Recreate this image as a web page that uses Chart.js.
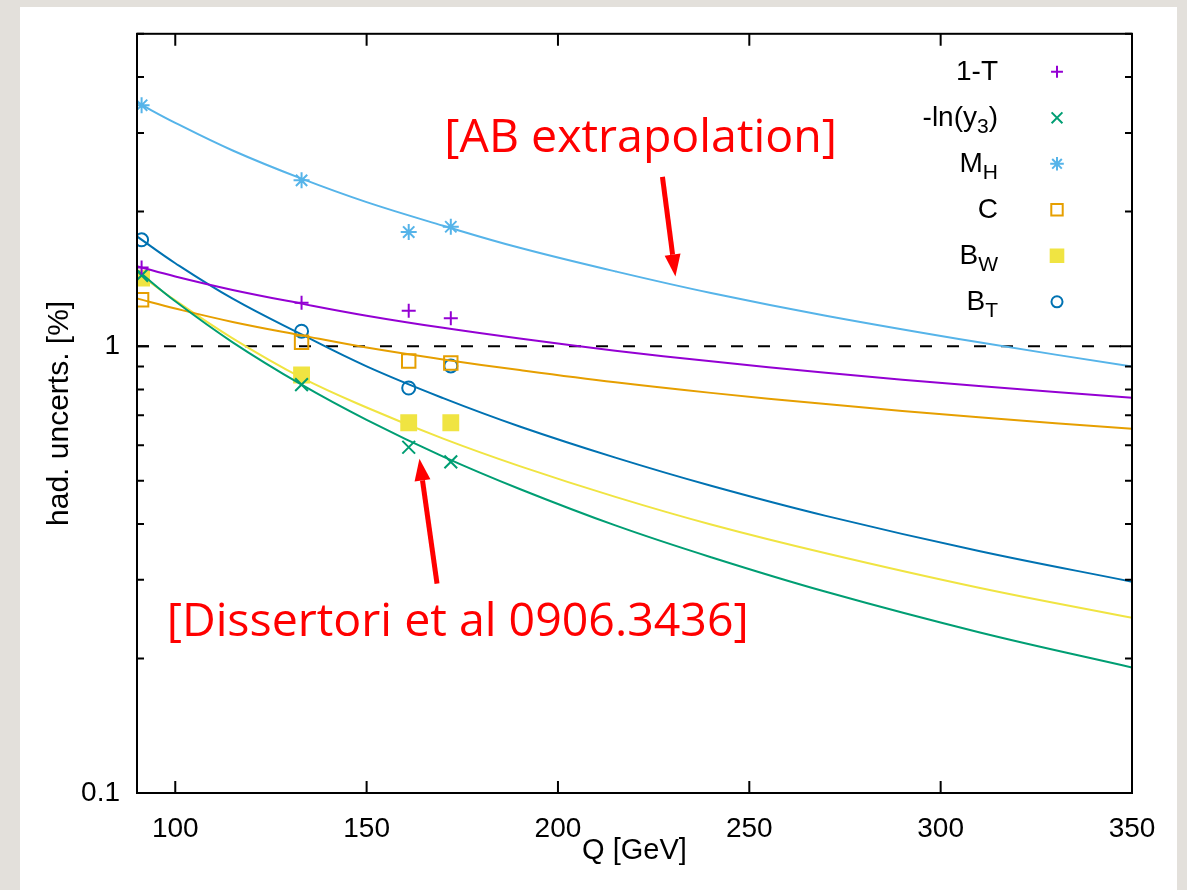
<!DOCTYPE html>
<html>
<head>
<meta charset="utf-8">
<script src="https://cdn.jsdelivr.net/npm/chart.js@4.4.1/dist/chart.umd.min.js"></script>
<style>
  html, body { margin: 0; padding: 0; }
  body { width: 1187px; height: 890px; overflow: hidden; background: #e3e0db; position: relative; }
  #sheet { position: absolute; left: 20px; top: 7px; width: 1157px; height: 883px; background: #fff; }
  #wrap { position: absolute; left: 0; top: 0; width: 1187px; height: 890px; }
</style>
</head>
<body>
<div id="sheet"></div>
<div id="wrap"><canvas id="chartHad"></canvas></div>
<script>
// measured points (LEP energies)
const energies = [91.2, 133, 161, 172];
const thrustPts = [1.50, 1.25, 1.20, 1.155];
const y3Pts = [1.44, 0.82, 0.594, 0.551];
const heavyMassPts = [3.46, 2.35, 1.80, 1.85];
const cParamPts = [1.27, 1.02, 0.926, 0.917];
const wideBroadPts = [1.42, 0.862, 0.674, 0.674];
const totalBroadPts = [1.73, 1.08, 0.806, 0.903];

// extrapolation curves
const curveQ = [90, 100, 115, 133, 150, 170, 190, 215, 240, 270, 310, 350];
const thrustCurve = [1.51, 1.432, 1.336, 1.245, 1.17, 1.099, 1.04, 0.977, 0.925, 0.872, 0.814, 0.766];
const y3Curve = [1.48, 1.26, 1.02, 0.82, 0.684, 0.566, 0.479, 0.397, 0.337, 0.282, 0.229, 0.191];
const heavyMassCurve = [3.51, 3.16, 2.74, 2.37, 2.10, 1.86, 1.66, 1.47, 1.315, 1.17, 1.02, 0.90];
const cParamCurve = [1.278, 1.214, 1.133, 1.057, 0.993, 0.934, 0.884, 0.83, 0.786, 0.742, 0.693, 0.653];
const wideBroadCurve = [1.46, 1.266, 1.041, 0.85, 0.729, 0.621, 0.539, 0.46, 0.399, 0.344, 0.288, 0.2466];
const totalBroadCurve = [1.76, 1.533, 1.277, 1.062, 0.901, 0.765, 0.661, 0.563, 0.487, 0.417, 0.348, 0.297];

// axes
const xTicks = [100, 150, 200, 250, 300, 350];
const yTicks = [0.1, 0.2, 0.3, 0.4, 0.5, 0.6, 0.7, 0.8, 0.9, 1, 2, 3, 4, 5];
const yLabeled = [0.1, 1];

// legend: main text + subscript + tail
const legendLabels = [
  ['1-T', '', ''],
  ['-ln(y', '3', ')'],
  ['M', 'H', ''],
  ['C', '', ''],
  ['B', 'W', ''],
  ['B', 'T', '']
];

// red notes (data coords)
const noteTexts = ['[AB extrapolation]', '[Dissertori et al 0906.3436]'];
const notePos = [[221.6, 2.907], [173.8, 0.240]];
const arrowFrom = [[227.3, 2.392], [168.4, 0.294]];
const arrowTo = [[230.7, 1.432], [163.8, 0.560]];

const FONT = "'Liberation Sans', Arial, sans-serif";

const series = [
  { name: '1-T', pts: thrustPts, curve: thrustCurve, color: '#9400d3', style: 'cross', r: 7, fill: false },
  { name: '-ln(y3)', pts: y3Pts, curve: y3Curve, color: '#009e73', style: 'crossRot', r: 9, fill: false },
  { name: 'M_H', pts: heavyMassPts, curve: heavyMassCurve, color: '#56b4e9', style: 'star', r: 8, fill: false },
  { name: 'C', pts: cParamPts, curve: cParamCurve, color: '#e69f00', style: 'rect', r: 9.5, fill: false },
  { name: 'B_W', pts: wideBroadPts, curve: wideBroadCurve, color: '#f0e442', style: 'rect', r: 10.5, fill: true },
  { name: 'B_T', pts: totalBroadPts, curve: totalBroadCurve, color: '#0072b2', style: 'circle', r: 6.5, fill: false }
];

const datasets = [];
series.forEach(s => {
  datasets.push({
    label: s.name + ' fit',
    data: curveQ.map((q, i) => ({ x: q, y: s.curve[i] })),
    showLine: true,
    borderColor: s.color,
    borderWidth: 2,
    pointRadius: 0,
    tension: 0.4
  });
  datasets.push({
    label: s.name,
    data: energies.map((q, i) => ({ x: q, y: s.pts[i] })),
    showLine: false,
    pointStyle: s.style,
    pointRadius: s.r,
    pointBorderWidth: 2,
    pointBorderColor: s.color,
    pointBackgroundColor: s.fill ? s.color : 'rgba(0,0,0,0)'
  });
});
// dashed reference line at 1%
datasets.push({
  label: 'ref',
  data: [{ x: 90, y: 1 }, { x: 350, y: 1 }],
  showLine: true,
  borderColor: '#000',
  borderWidth: 2,
  borderDash: [12, 15],
  pointRadius: 0
});

function drawArrow(ctx, x0, y0, x1, y1) {
  const ang = Math.atan2(y1 - y0, x1 - x0);
  const head = 22, half = 8;
  const bx = x1 - head * Math.cos(ang), by = y1 - head * Math.sin(ang);
  ctx.beginPath();
  ctx.moveTo(x0, y0);
  ctx.lineTo(bx, by);
  ctx.stroke();
  ctx.beginPath();
  ctx.moveTo(x1, y1);
  ctx.lineTo(bx + half * Math.sin(ang), by - half * Math.cos(ang));
  ctx.lineTo(bx - half * Math.sin(ang), by + half * Math.cos(ang));
  ctx.closePath();
  ctx.fill();
}

const framePlugin = {
  id: 'framePlugin',
  afterDatasetsDraw(chart) {
    const { ctx, chartArea: a, scales: { x, y } } = chart;
    ctx.save();
    // frame + inward ticks (gnuplot style)
    ctx.strokeStyle = '#000';
    ctx.lineWidth = 2;
    ctx.strokeRect(a.left, a.top, a.right - a.left, a.bottom - a.top);
    ctx.beginPath();
    xTicks.forEach(v => {
      const px = x.getPixelForValue(v);
      ctx.moveTo(px, a.bottom); ctx.lineTo(px, a.bottom - 12);
      ctx.moveTo(px, a.top); ctx.lineTo(px, a.top + 12);
    });
    yTicks.forEach(v => {
      const py = y.getPixelForValue(v);
      const len = yLabeled.includes(v) ? 12 : 7;
      ctx.moveTo(a.left, py); ctx.lineTo(a.left + len, py);
      ctx.moveTo(a.right, py); ctx.lineTo(a.right - len, py);
    });
    ctx.stroke();

    // legend
    const textRight = a.right - 134;
    const markX = a.right - 75;
    legendLabels.forEach((lab, i) => {
      const rowY = a.top + 38 + i * 46;
      const mainFont = '28px ' + FONT, subFont = '21px ' + FONT;
      ctx.font = mainFont;
      const w1 = ctx.measureText(lab[0]).width, w3 = ctx.measureText(lab[2]).width;
      ctx.font = subFont;
      const w2 = ctx.measureText(lab[1]).width;
      let tx = textRight - (w1 + w2 + w3);
      ctx.fillStyle = '#000';
      ctx.textAlign = 'left';
      ctx.textBaseline = 'middle';
      ctx.font = mainFont;
      ctx.fillText(lab[0], tx, rowY);
      tx += w1;
      if (lab[1]) {
        ctx.font = subFont;
        ctx.fillText(lab[1], tx, rowY + 9);
        tx += w2;
      }
      if (lab[2]) {
        ctx.font = mainFont;
        ctx.fillText(lab[2], tx, rowY);
      }
      const s = series[i];
      ctx.strokeStyle = s.color;
      ctx.fillStyle = s.fill ? s.color : 'rgba(0,0,0,0)';
      ctx.lineWidth = 2;
      Chart.helpers.drawPoint(ctx, { pointStyle: s.style, radius: s.r * 0.85, borderWidth: 2, rotation: 0 }, markX, rowY);
    });

    // red notes and arrows
    ctx.fillStyle = '#ff0000';
    ctx.strokeStyle = '#ff0000';
    ctx.lineWidth = 5;
    ctx.font = "46.5px 'Open Sans', sans-serif";
    ctx.textAlign = 'center';
    ctx.textBaseline = 'middle';
    noteTexts.forEach((t, i) => {
      ctx.fillText(t, x.getPixelForValue(notePos[i][0]), y.getPixelForValue(notePos[i][1]));
    });
    arrowFrom.forEach((f, i) => {
      drawArrow(ctx,
        x.getPixelForValue(f[0]), y.getPixelForValue(f[1]),
        x.getPixelForValue(arrowTo[i][0]), y.getPixelForValue(arrowTo[i][1]));
    });
    ctx.restore();
  }
};

new Chart(document.getElementById('chartHad'), {
  type: 'scatter',
  data: { datasets: datasets },
  options: {
    responsive: true,
    maintainAspectRatio: false,
    animation: false,
    layout: { padding: { left: 40, right: 55, top: 25, bottom: 0 } },
    plugins: { legend: { display: false }, tooltip: { enabled: false } },
    scales: {
      x: {
        type: 'linear',
        min: 90,
        max: 350,
        afterBuildTicks: scale => { scale.ticks = xTicks.map(v => ({ value: v })); },
        afterFit: scale => { scale.height = 97; },
        grid: { display: false, drawTicks: false },
        border: { display: false },
        ticks: { color: '#000', font: { family: FONT, size: 28 }, padding: 19, maxRotation: 0 },
        title: { display: true, text: 'Q [GeV]', color: '#000', font: { family: FONT, size: 29 }, padding: { top: 4, bottom: 22 } }
      },
      y: {
        type: 'logarithmic',
        min: 0.1,
        max: 5,
        afterBuildTicks: scale => { scale.ticks = yTicks.map(v => ({ value: v })); },
        afterFit: scale => { scale.width = 97; },
        grid: { display: false, drawTicks: false },
        border: { display: false },
        ticks: {
          color: '#000',
          font: { family: FONT, size: 28 },
          padding: 17,
          autoSkip: false,
          callback: v => (yLabeled.includes(v) ? String(v) : '')
        },
        title: { display: true, text: 'had. uncerts. [%]', color: '#000', font: { family: FONT, size: 30 }, padding: { top: 2, bottom: 0 } }
      }
    }
  },
  plugins: [framePlugin]
});
</script>
</body>
</html>
